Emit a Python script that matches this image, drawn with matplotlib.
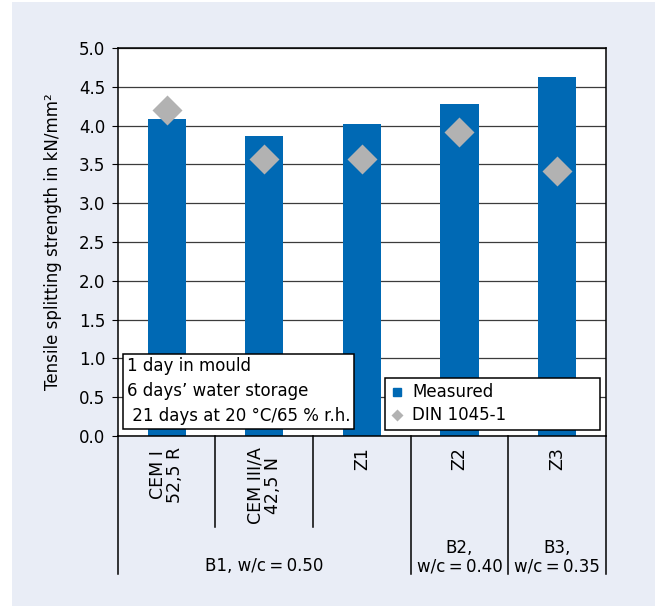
import matplotlib.pyplot as plt
from matplotlib.lines import Line2D
from matplotlib.patches import Rectangle

plt.rcParams['font.family'] = ['DejaVu Sans']

# values
categories = ['CEM I\n52,5 R', 'CEM III/A\n42,5 N', 'Z1', 'Z2', 'Z3']
measured = [4.09, 3.87, 4.02, 4.28, 4.62]
din_1045 = [4.20, 3.57, 3.57, 3.91, 3.42]
groups = ['B1, w/c\u2009=\u20090.50', 'B2,\nw/c\u2009=\u20090.40', 'B3,\nw/c\u2009=\u20090.35']
group_span = [(0, 2), (3, 3), (4, 4)]
yticks = [0.0, 0.5, 1.0, 1.5, 2.0, 2.5, 3.0, 3.5, 4.0, 4.5, 5.0]

blue = '#0069B4'
grey = '#B2B2B2'
bg = '#E9EDF6'
fs = 12

fig = plt.figure(figsize=(6.55, 6.06), dpi=100, facecolor='white')
fig.patches.append(Rectangle((12 / 655, 0), 1, 1 - 2 / 606, transform=fig.transFigure,
                             facecolor=bg, edgecolor='none', zorder=-10))
ax = fig.add_axes([0.18, 0.2805, 0.745, 0.6405])

x = range(len(categories))
ax.bar(x, measured, width=0.39, color=blue, zorder=2)
ax.plot(x, din_1045, linestyle='none', marker='D', ms=15, color=grey, mec='none', zorder=3)

ax.set_xlim(-0.5, len(categories) - 0.5)
ax.set_ylim(0, 5)
ax.set_yticks(yticks)
ax.set_yticklabels([f'{v:.1f}' for v in yticks], fontsize=fs)
ax.set_xticks([])
ax.tick_params(axis='y', direction='out', length=4, width=0.8, pad=5)
ax.grid(axis='y', color='#3c3c3c', linewidth=0.9, zorder=0)
ax.set_axisbelow(True)
for s in ax.spines.values():
    s.set_color('black')
    s.set_linewidth(1.1)
ax.set_ylabel('Tensile splitting strength in kN/mm\u00b2', fontsize=fs, labelpad=12)

# category labels and separators below the axis
tr = ax.get_xaxis_transform()
for i, c in enumerate(categories):
    ax.text(i, -0.028, c, rotation=90, ha='center', va='top', fontsize=12.5,
            transform=tr, linespacing=0.9)
for b in range(len(categories) + 1):
    pos = b - 0.5
    long_line = b in (0, 3, 4, 5)
    ax.plot([pos, pos], [0, -0.356 if long_line else -0.235], color='black', lw=1.1,
            transform=tr, clip_on=False)
for g, (a, b) in zip(groups, group_span):
    ax.text((a + b) / 2, -0.348, g, ha='center', va='baseline', fontsize=fs,
            transform=tr, linespacing=1.0)

# note box
ax.text(0.018, 0.115, '1 day in mould\n6 days\u2019 water storage\n 21 days at 20 \u00b0C/65 % r.h.',
        transform=ax.transAxes, fontsize=fs, va='center', ha='left', linespacing=1.5,
        zorder=5,
        bbox=dict(boxstyle='square,pad=0.2', facecolor='white', edgecolor='black', lw=1.1))

handles = [Line2D([], [], linestyle='none', marker='s', ms=6, color=blue),
           Line2D([], [], linestyle='none', marker='D', ms=6, color=grey, mec='none')]
leg = ax.legend(handles, ['Measured', 'DIN 1045-1'], loc='lower left', mode='expand',
                bbox_to_anchor=(0.547, 0.015, 0.44, 0.13), fontsize=fs, frameon=True,
                fancybox=False, edgecolor='black', framealpha=1, handlelength=0.8,
                handletextpad=0.5, borderpad=0.35, labelspacing=0.3, borderaxespad=0)
leg.get_frame().set_linewidth(1.1)
leg.set_zorder(5)

fig.savefig('out.png', dpi=100, facecolor=fig.get_facecolor())
